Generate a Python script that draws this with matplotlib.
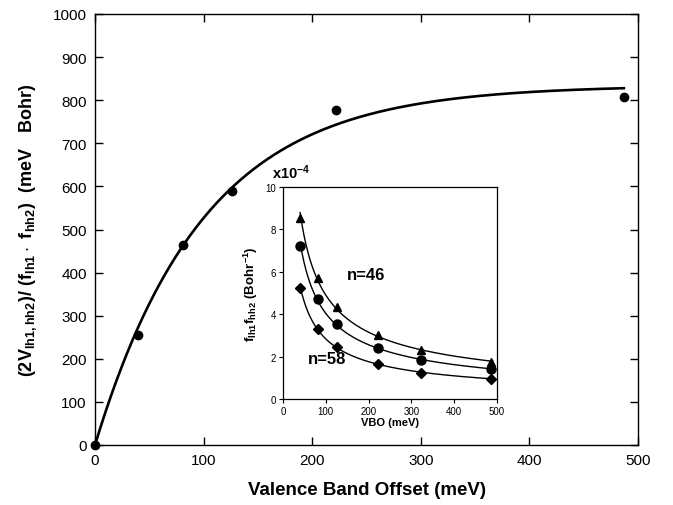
import numpy as np
import matplotlib
matplotlib.use("Agg")
import matplotlib.pyplot as plt

plt.rcParams['font.family'] = ['Liberation Sans', 'DejaVu Sans']
plt.rcParams['mathtext.fontset'] = 'custom'
plt.rcParams['mathtext.rm'] = 'Liberation Sans:bold'
plt.rcParams['mathtext.it'] = 'Liberation Sans:bold'
plt.rcParams['mathtext.bf'] = 'Liberation Sans:bold'
plt.rcParams['mathtext.default'] = 'bf'

# Main panel data
vbo_main = [0, 40, 81, 126, 222, 487]
coupling = [0, 255, 463, 590, 778, 808]
main_xticks = [0, 100, 200, 300, 400, 500]
main_yticks = list(range(0, 1001, 100))

# Inset data (x10^-4 Bohr^-1)
vbo_inset = [40, 81, 126, 222, 323, 487]
f_tri = [8.55, 5.70, 4.32, 3.00, 2.30, 1.75]
f_circ = [7.20, 4.70, 3.55, 2.42, 1.85, 1.40]
f_diam = [5.25, 3.30, 2.45, 1.65, 1.25, 0.95]
inset_xticks = [0, 100, 200, 300, 400, 500]
inset_yticks = [0, 2, 4, 6, 8, 10]

fig = plt.figure(figsize=(6.73, 5.06), dpi=100)
ax = fig.add_axes([95/673, 1-446/506, (638-95)/673, (446-15)/506])

# saturating exponential fit A(1-exp(-x/tau)) computed from the data
xm = np.array(vbo_main, float); ym = np.array(coupling, float)
best = None
for tau in np.linspace(40, 250, 2101):
    g = 1 - np.exp(-xm/tau)
    A = np.sum(ym*g)/np.sum(g*g)
    r = np.sum((ym - A*g)**2)
    if best is None or r < best[0]:
        best = (r, A, tau)
_, A, tau = best
xf = np.linspace(0, 487, 400)
ax.plot(xf, A*(1-np.exp(-xf/tau)), color='black', lw=1.9, zorder=2)
ax.plot(vbo_main, coupling, 'o', color='black', ms=6, clip_on=False, zorder=3)

ax.set_xlim(0, 500)
ax.set_ylim(0, 1000)
ax.set_xticks(main_xticks)
ax.set_yticks(main_yticks)
ax.tick_params(direction='in', length=6, width=1, top=True, right=True,
               labelsize=11, pad=6)
for s in ax.spines.values():
    s.set_linewidth(1.0)
ax.set_xlabel('Valence Band Offset (meV)', fontsize=13.5, fontweight='bold', labelpad=10)
ax.set_ylabel(r'$(2V_{lh1,hh2})/\ (f_{lh1}\cdot\ f_{hh2})\ \ (meV\ \ \ Bohr)$',
              fontsize=13, labelpad=10)

# Inset
ai = fig.add_axes([283/673, 1-400/506, (497-283)/673, (400-188)/506])
ai.set_facecolor('white')
xi = np.array(vbo_inset, float)
xs = np.linspace(40, 490, 300)
for ys, mk, msz in [(f_tri, '^', 6), (f_circ, 'o', 6.5), (f_diam, 'D', 5)]:
    p = np.polyfit(np.log(xi), np.log(ys), 1)
    ai.plot(xs, np.exp(np.polyval(p, np.log(xs))), color='black', lw=1.0)
    ai.plot(vbo_inset, ys, mk, color='black', ms=msz)
ai.set_xlim(0, 500)
ai.set_ylim(0, 10)
ai.set_xticks(inset_xticks)
ai.set_yticks(inset_yticks)
ai.tick_params(direction='out', length=3, width=0.8, labelsize=7, pad=2)
for s in ai.spines.values():
    s.set_linewidth(0.9)
ai.set_xlabel('VBO (meV)', fontsize=8, fontweight='bold', labelpad=1)
ai.set_ylabel(r'$f_{lh1}f_{hh2}\ (Bohr^{-1})$', fontsize=9.5, labelpad=4)
ai.text(-0.05, 1.03, r'$x10^{-4}$', transform=ai.transAxes, fontsize=10.5,
        ha='left', va='bottom')
ai.text(150, 5.85, 'n=46', fontsize=12, fontweight='bold', va='center')
ai.text(58, 1.93, 'n=58', fontsize=12, fontweight='bold', va='center')

fig.savefig('out.png', dpi=100)
